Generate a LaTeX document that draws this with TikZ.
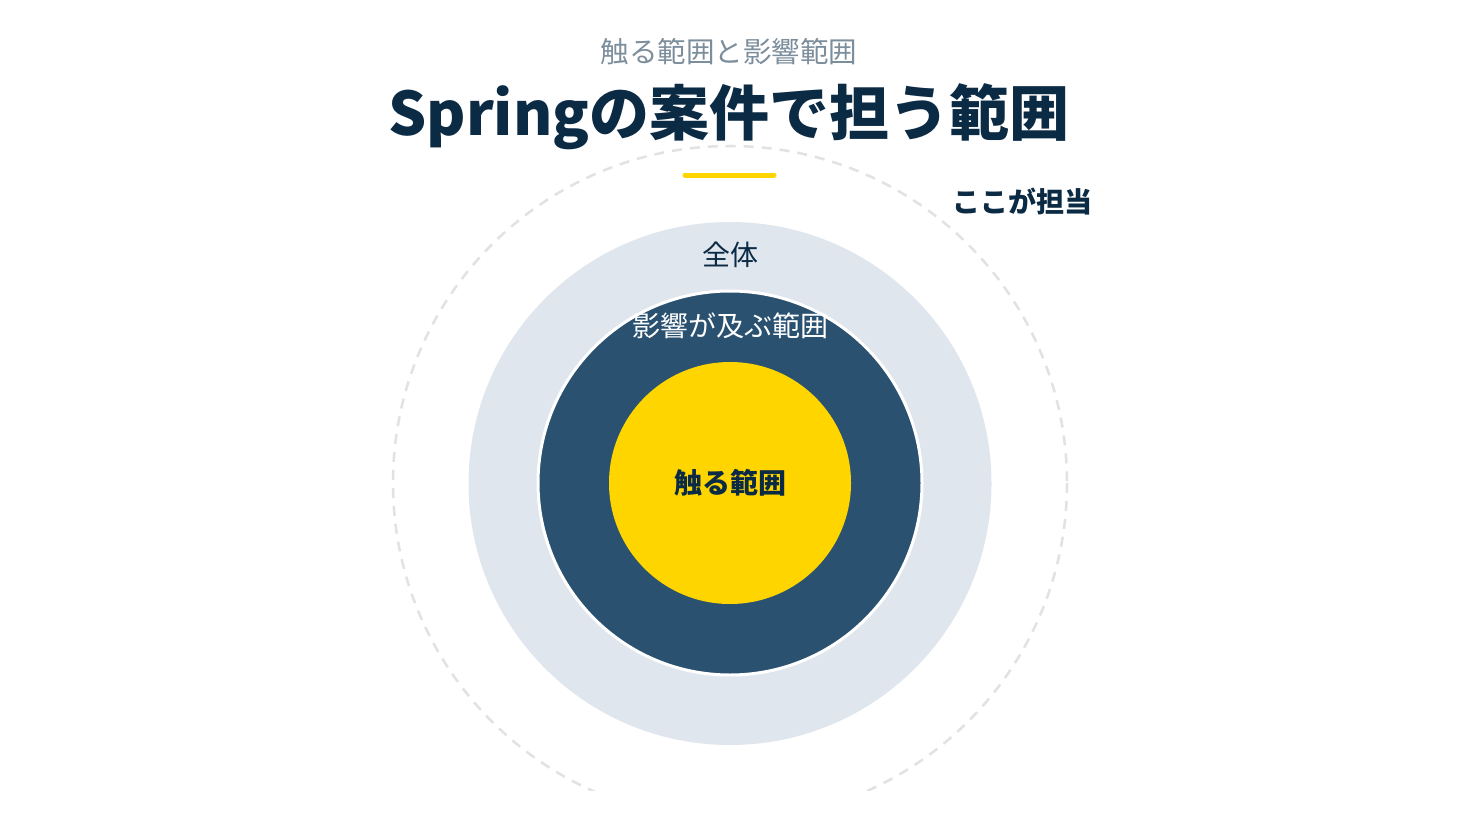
\documentclass[tikz,border=0pt]{standalone}
\usepackage{fontspec}
\setmainfont{Noto Sans CJK JP}
\definecolor{navy}{HTML}{0B2A44}
\definecolor{subgray}{HTML}{7C8E9C}
\definecolor{lightring}{HTML}{E0E6EE}
\definecolor{darkring}{HTML}{2A5170}
\definecolor{gold}{HTML}{FFD500}
\definecolor{dashgray}{HTML}{E2E2E2}
\tikzset{
  lbl/.style={inner sep=0pt, font=\fontsize{28}{32}\selectfont},
  lblb/.style={inner sep=0pt, font=\fontsize{28}{32}\selectfont\bfseries},
}
\begin{document}
\begin{tikzpicture}[x=1pt,y=-1pt]
\useasboundingbox (0,0) rectangle (1480,832);
\fill[white] (0,0) rectangle (1480,832);
\begin{scope}
\clip (0,0) rectangle (1480,790);
\draw[dashgray, line width=2.5pt, dash pattern=on 10pt off 8pt] (730,483) circle[radius=337];
\end{scope}
\fill[lightring] (730,483.5) circle[radius=261.5];
\fill[darkring, draw=white, line width=3pt] (730,483) circle[radius=192];
\fill[gold] (730,483) circle[radius=121];
\node[inner sep=0pt, text=subgray, font=\fontsize{28.5}{32}\selectfont] (sub) at (729,52) {触る範囲と影響範囲};
\node[inner sep=0pt, text=navy, font=\fontsize{60}{70}\selectfont\bfseries] (title) at (729,117) {Springの案件で担う範囲};
\draw[gold, line width=5pt, line cap=round] (685,175) -- (774,175);
\node[lbl, text=navy] (all) at (730,255) {全体};
\node[lbl, text=white] (aff) at (730,326) {影響が及ぶ範囲};
\node[lblb, text=navy] (touch) at (730,483) {触る範囲};
\node[lblb, text=navy] (mine) at (1022,202) {ここが担当};
\end{tikzpicture}
\end{document}
